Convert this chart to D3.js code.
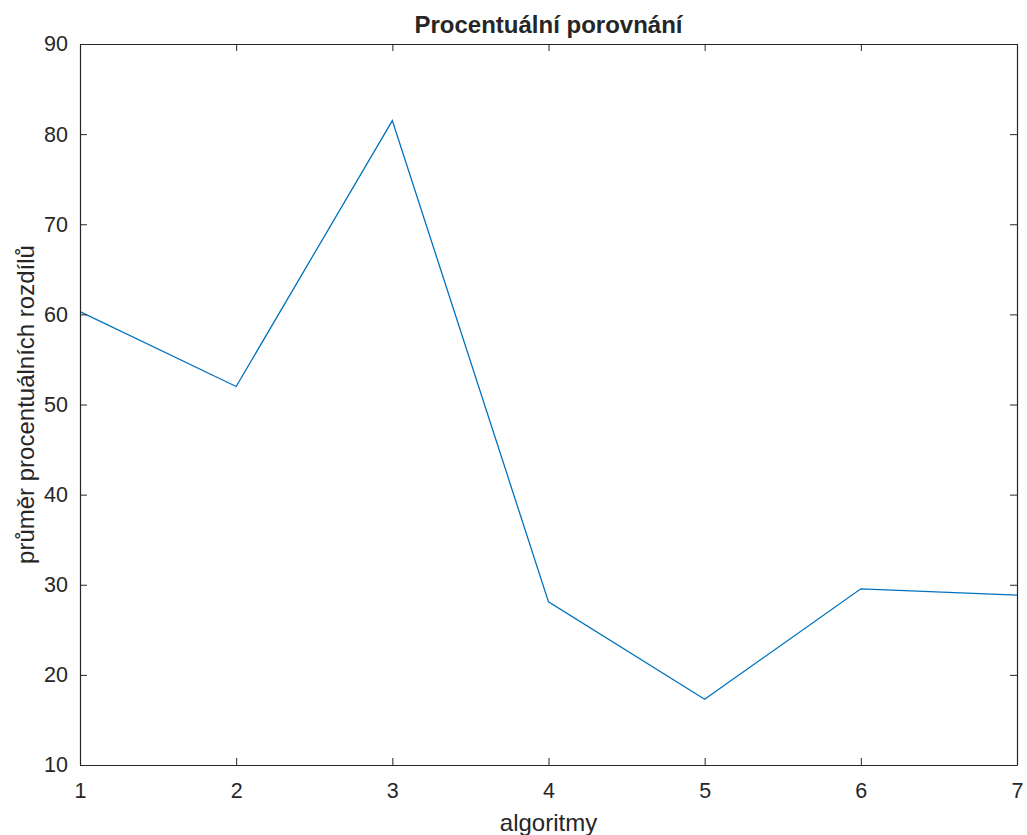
<!DOCTYPE html>
<html>
<head>
<meta charset="utf-8">
<script src="https://cdn.jsdelivr.net/npm/d3@7"></script>
<style>
  body { margin: 0; background: #fff; }
  svg text { font-family: "Liberation Sans", Arial, sans-serif; fill: #262626; }
</style>
</head>
<body>
<svg id="chart" width="1027" height="835"></svg>
<script>
// data
var algoritmy = [1, 2, 3, 4, 5, 6, 7]
var prumer = [60.3, 52.0, 81.5, 28.1, 17.3, 29.55, 28.85]
var xTicks = [1, 2, 3, 4, 5, 6, 7]
var yTicks = [10, 20, 30, 40, 50, 60, 70, 80, 90]

var margin = { left: 80, right: 10, top: 44, bottom: 70 }
var width = 1027, height = 835
var w = width - margin.left - margin.right
var h = height - margin.top - margin.bottom

var svg = d3.select('#chart')
var g = svg.append('g').attr('transform', 'translate(' + margin.left + ',' + margin.top + ')')

var x = d3.scaleLinear().domain([1, 7]).range([0, w])
var y = d3.scaleLinear().domain([10, 90]).range([h, 0])

var axisColor = '#262626'
var tickFont = '21.5px'
var labelFont = '24px'

// the line
var line = d3.line().x(function(d, i) { return x(algoritmy[i]) }).y(function(d) { return y(d) })
g.append('path')
  .datum(prumer)
  .attr('fill', 'none')
  .attr('stroke', '#0072BD')
  .attr('stroke-width', 1.3)
  .attr('d', line)

// axes (inner ticks like matlab)
function styleAxis(sel, hideText) {
  sel.select('.domain').attr('stroke', axisColor).attr('stroke-width', 1.2)
  sel.selectAll('.tick line').attr('stroke', axisColor).attr('stroke-width', 1)
  sel.selectAll('.tick text').style('font-size', tickFont).attr('fill', axisColor)
  if (hideText) sel.selectAll('.tick text').remove()
}

var xAxis = g.append('g').attr('transform', 'translate(0,' + h + ')')
  .call(d3.axisBottom(x).tickValues(xTicks).tickFormat(d3.format('d')).tickSizeInner(-7).tickSizeOuter(0))
styleAxis(xAxis)
xAxis.selectAll('.tick text').attr('y', 33).attr('dy', 0)

var xTop = g.append('g')
  .call(d3.axisTop(x).tickValues(xTicks).tickSizeInner(-7).tickSizeOuter(0))
styleAxis(xTop, true)

var yAxis = g.append('g')
  .call(d3.axisLeft(y).tickValues(yTicks).tickFormat(d3.format('d')).tickSizeInner(-7).tickSizeOuter(0).tickPadding(12))
styleAxis(yAxis)

var yRight = g.append('g').attr('transform', 'translate(' + w + ',0)')
  .call(d3.axisRight(y).tickValues(yTicks).tickSizeInner(-7).tickSizeOuter(0))
styleAxis(yRight, true)

// labels
svg.append('text')
  .attr('x', margin.left + w / 2).attr('y', 33)
  .attr('text-anchor', 'middle')
  .style('font-size', labelFont).style('font-weight', 'bold')
  .attr('fill', '#000')
  .text('Procentuální porovnání')

svg.append('text')
  .attr('x', margin.left + w / 2).attr('y', 831)
  .attr('text-anchor', 'middle')
  .style('font-size', labelFont)
  .text('algoritmy')

svg.append('text')
  .attr('transform', 'translate(34,' + (margin.top + h / 2) + ')rotate(-90)')
  .attr('text-anchor', 'middle')
  .style('font-size', labelFont)
  .text('průměr procentuálních rozdílů')
</script>
</body>
</html>
